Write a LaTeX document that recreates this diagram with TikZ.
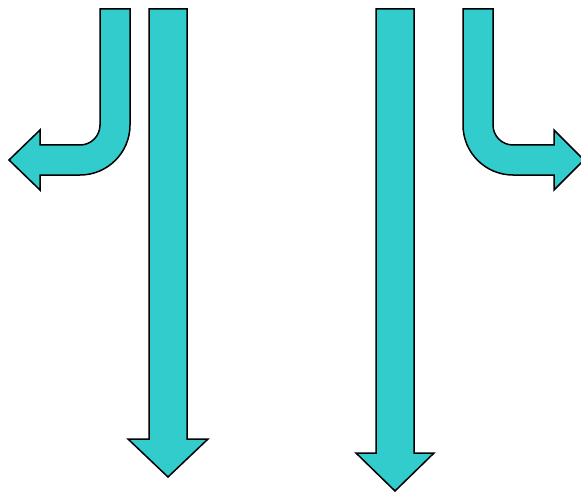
\documentclass[tikz,border=0pt]{standalone}
\usepackage{tikz}
\definecolor{arrowcyan}{RGB}{51,204,204}
\tikzset{blockarrow/.style={draw=black, line width=1.5pt, fill=arrowcyan, line join=miter}}

\begin{document}
\begin{tikzpicture}[x=1pt, y=-1pt]
    \useasboundingbox (0,0) rectangle (581,492);
    \draw[blockarrow] (100,9) -- (130,9) -- (130,125) arc[start angle=0, end angle=90, radius=50]
      -- (40,175) -- (40,190) -- (9,160) -- (40,130) -- (40,145) -- (80,145)
      arc[start angle=90, end angle=0, radius=20] -- cycle;
    \draw[blockarrow] (149,9) -- (187,9) -- (187,439) -- (208,439) -- (168,477)
      -- (128,439) -- (149,439) -- cycle;
    \draw[blockarrow] (376,9) -- (414,9) -- (414,453) -- (434,453) -- (395,491)
      -- (356,453) -- (376,453) -- cycle;
    \draw[blockarrow] (463,9) -- (493,9) -- (493,125) arc[start angle=180, end angle=90, radius=20]
      -- (554,145) -- (554,130) -- (584,160) -- (554,190) -- (554,175) -- (513,175)
      arc[start angle=90, end angle=180, radius=50] -- cycle;
  \end{tikzpicture}
\end{document}
